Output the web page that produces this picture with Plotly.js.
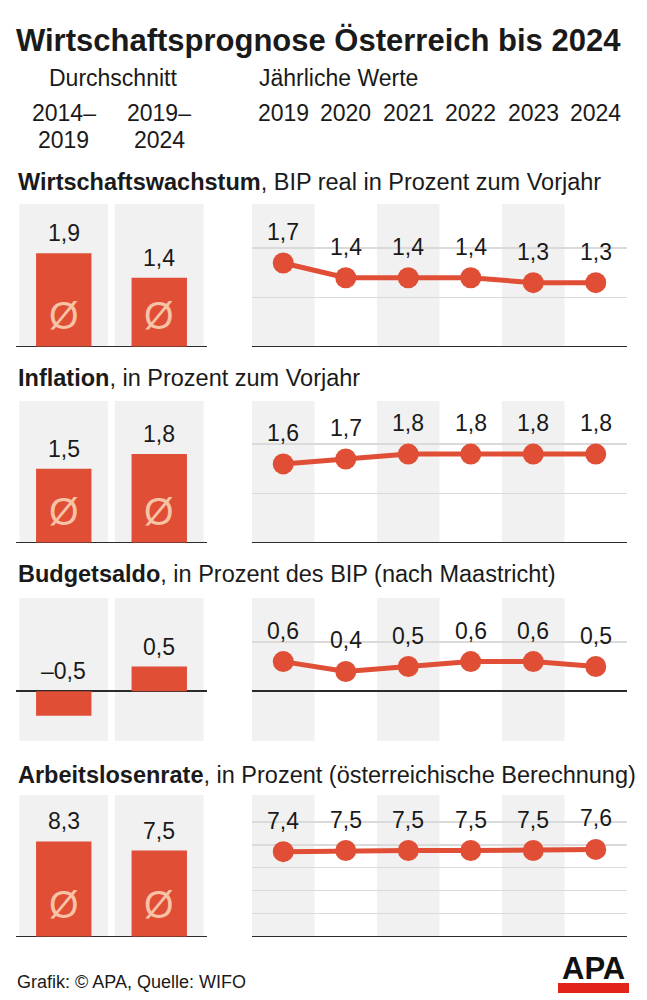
<!DOCTYPE html>
<html>
<head>
<meta charset="utf-8">
<script src="https://cdn.plot.ly/plotly-3.0.1.min.js"></script>
<style>html,body{margin:0;padding:0;background:#fff;}#chart{width:647px;height:1000px;}</style>
</head>
<body>
<div id="chart"></div>
<script>
// ---------- DATA ----------
const chartTitle = 'Wirtschaftsprognose Österreich bis 2024';
const avgHeader = 'Durchschnitt';
const yearHeader = 'Jährliche Werte';
const avgPeriods = ['2014–2019', '2019–2024'];
const avgPeriodStart = ['2014–', '2019–'];
const avgPeriodEnd = ['2019', '2024'];
const years = ['2019', '2020', '2021', '2022', '2023', '2024'];

const growthAvg = [1.9, 1.4];
const growthYears = [1.7, 1.4, 1.4, 1.4, 1.3, 1.3];
const inflationAvg = [1.5, 1.8];
const inflationYears = [1.6, 1.7, 1.8, 1.8, 1.8, 1.8];
const budgetAvg = [-0.5, 0.5];
const budgetYears = [0.6, 0.4, 0.5, 0.6, 0.6, 0.5];
const unempAvg = [8.3, 7.5];
const unempYears = [7.4, 7.5, 7.5, 7.5, 7.5, 7.6];

const sectionTitles = [
  '<b>Wirtschaftswachstum</b>, BIP real in Prozent zum Vorjahr',
  '<b>Inflation</b>, in Prozent zum Vorjahr',
  '<b>Budgetsaldo</b>, in Prozent des BIP (nach Maastricht)',
  '<b>Arbeitslosenrate</b>, in Prozent (österreichische Berechnung)'
];
const sourceText = 'Grafik: © APA, Quelle: WIFO';
const logoText = 'APA';

// ---------- STYLE / LAYOUT CONFIG ----------
const W = 647, H = 1000;
const RED = '#df4e35';
const BG = '#f1f1f1';
const GRID = '#dadada';
const DARK = '#2b2b2b';
const FONT = 'Liberation Sans, Arial, sans-serif';
const TXT = '#1a1a1a';

const px = v => v / W;
const py = v => 1 - v / H;

const sections = [
  {avg: growthAvg, yrs: growthYears, top: 204, bottom: 347, range: [-0.01, 2.9], grid: [1, 2], sym: true, head: 182},
  {avg: inflationAvg, yrs: inflationYears, top: 401, bottom: 543, range: [-0.01, 2.88], grid: [1, 2], sym: true, head: 378},
  {avg: budgetAvg, yrs: budgetYears, top: 598, bottom: 741, range: [-1.01, 1.89], grid: [-1, 1], sym: false, head: 574},
  {avg: unempAvg, yrs: unempYears, top: 795, bottom: 937, range: [-0.05, 12.35], grid: [2, 4, 6, 8, 10], sym: true, head: 775}
];

const fmt = v => (v < 0 ? '–' : '') + Math.abs(v).toFixed(1).replace('.', ',');

const data = [];
const shapes = [];
const annotations = [];
const layout = {
  width: W, height: H,
  margin: {l: 0, r: 0, t: 0, b: 0},
  paper_bgcolor: '#fff', plot_bgcolor: 'rgba(0,0,0,0)',
  showlegend: false,
  separators: ',.',
  font: {family: FONT, color: TXT},
  shapes: shapes,
  annotations: annotations
};

sections.forEach((s, i) => {
  const nL = 2 * i + 1, nR = 2 * i + 2;
  const xL = 'x' + nL, yL = 'y' + nL, xR = 'x' + nR, yR = 'y' + nR;
  const yDom = [py(s.bottom), py(s.top)];
  const baseAxisX = {showticklabels: false, ticks: '', showgrid: false, zeroline: false, showline: false, fixedrange: true};
  layout['xaxis' + nL] = Object.assign({}, baseAxisX, {domain: [px(16), px(207)], anchor: yL, type: 'category', range: [-0.5, 1.5]});
  layout['xaxis' + nR] = Object.assign({}, baseAxisX, {domain: [px(252), px(627)], anchor: yR, type: 'category', range: [-0.5, 5.5]});
  layout['yaxis' + nL] = {domain: yDom, anchor: xL, range: s.range, showticklabels: false, ticks: '', showgrid: false,
    zeroline: true, zerolinecolor: DARK, zerolinewidth: 1.6, fixedrange: true};
  layout['yaxis' + nR] = {domain: yDom, anchor: xR, range: s.range, showticklabels: false, ticks: '',
    showgrid: true, gridcolor: GRID, gridwidth: 1.5, tickmode: 'array', tickvals: s.grid,
    zeroline: true, zerolinecolor: DARK, zerolinewidth: 1.6, fixedrange: true};

  // grey backgrounds
  for (let k = 0; k < avgPeriods.length; k++) {
    shapes.push({type: 'rect', layer: 'below', xref: xL, yref: yL + ' domain', x0: k - 0.465, x1: k + 0.465, y0: 0, y1: 1,
      fillcolor: BG, line: {width: 0}});
  }
  for (let k = 0; k < years.length; k += 2) {
    shapes.push({type: 'rect', layer: 'below', xref: xR, yref: yR + ' domain', x0: k - 0.5, x1: k + 0.5, y0: 0, y1: 1,
      fillcolor: BG, line: {width: 0}});
  }

  data.push({type: 'bar', x: avgPeriods, y: s.avg, xaxis: xL, yaxis: yL, width: 0.58,
    marker: {color: RED, line: {width: 0}}, hoverinfo: 'skip'});
  data.push({type: 'scatter', mode: 'lines+markers', x: years, y: s.yrs, xaxis: xR, yaxis: yR,
    line: {color: RED, width: 5}, marker: {color: RED, size: 21}, hoverinfo: 'skip', cliponaxis: false});

  s.avg.forEach((v, k) => {
    annotations.push({xref: xL, yref: yL, x: k, y: Math.max(v, 0), yshift: 20, yanchor: 'middle',
      text: fmt(v), showarrow: false, font: {size: 23, color: TXT, family: FONT}});
    if (s.sym) {
      annotations.push({xref: xL, yref: yL, x: k, y: 0, yshift: 31, yanchor: 'middle',
        text: 'Ø', showarrow: false, font: {size: 38, color: '#f7c3a6', family: FONT}});
    }
  });
  s.yrs.forEach((v, k) => {
    annotations.push({xref: xR, yref: yR, x: k, y: v, yshift: 31, yanchor: 'middle',
      text: fmt(v), showarrow: false, font: {size: 23, color: TXT, family: FONT}});
  });

  annotations.push({xref: 'paper', yref: 'paper', x: px(16), y: py(s.head), xanchor: 'left', yanchor: 'middle',
    text: sectionTitles[i], showarrow: false, font: {size: 23.5, color: TXT, family: FONT}});
});

// Header texts
annotations.push({xref: 'paper', yref: 'paper', x: px(14), y: py(40), xanchor: 'left', yanchor: 'middle',
  text: '<b>' + chartTitle + '</b>', showarrow: false, font: {size: 31, color: TXT, family: FONT}});
annotations.push({xref: 'paper', yref: 'paper', x: px(113), y: py(78), xanchor: 'center', yanchor: 'middle',
  text: avgHeader, showarrow: false, font: {size: 23, color: TXT, family: FONT}});
annotations.push({xref: 'paper', yref: 'paper', x: px(257), y: py(78), xanchor: 'left', yanchor: 'middle',
  text: yearHeader, showarrow: false, font: {size: 23, color: TXT, family: FONT}});
avgPeriods.forEach((p, k) => {
  annotations.push({xref: 'x', yref: 'paper', x: k, y: py(113), xanchor: 'center', yanchor: 'middle',
    text: avgPeriodStart[k], showarrow: false, font: {size: 23, color: TXT, family: FONT}});
  annotations.push({xref: 'x', yref: 'paper', x: k, y: py(140), xanchor: 'center', yanchor: 'middle',
    text: avgPeriodEnd[k], showarrow: false, font: {size: 23, color: TXT, family: FONT}});
});
years.forEach((yr, k) => {
  annotations.push({xref: 'x2', yref: 'paper', x: k, y: py(113), xanchor: 'center', yanchor: 'middle',
    text: yr, showarrow: false, font: {size: 23, color: TXT, family: FONT}});
});

// Footer
annotations.push({xref: 'paper', yref: 'paper', x: px(15), y: py(982), xanchor: 'left', yanchor: 'middle',
  text: sourceText, showarrow: false, font: {size: 18, color: TXT, family: FONT}});
shapes.push({type: 'rect', xref: 'paper', yref: 'paper', x0: px(558), x1: px(629), y0: py(993), y1: py(983),
  fillcolor: '#e2231a', line: {width: 0}, layer: 'above'});
annotations.push({xref: 'paper', yref: 'paper', x: px(593), y: py(988), xanchor: 'center', yanchor: 'bottom',
  text: '<b>' + logoText + '</b>', showarrow: false, font: {size: 31, color: '#111', family: FONT}});

Plotly.newPlot('chart', data, layout, {staticPlot: true, displayModeBar: false});
</script>
</body>
</html>
